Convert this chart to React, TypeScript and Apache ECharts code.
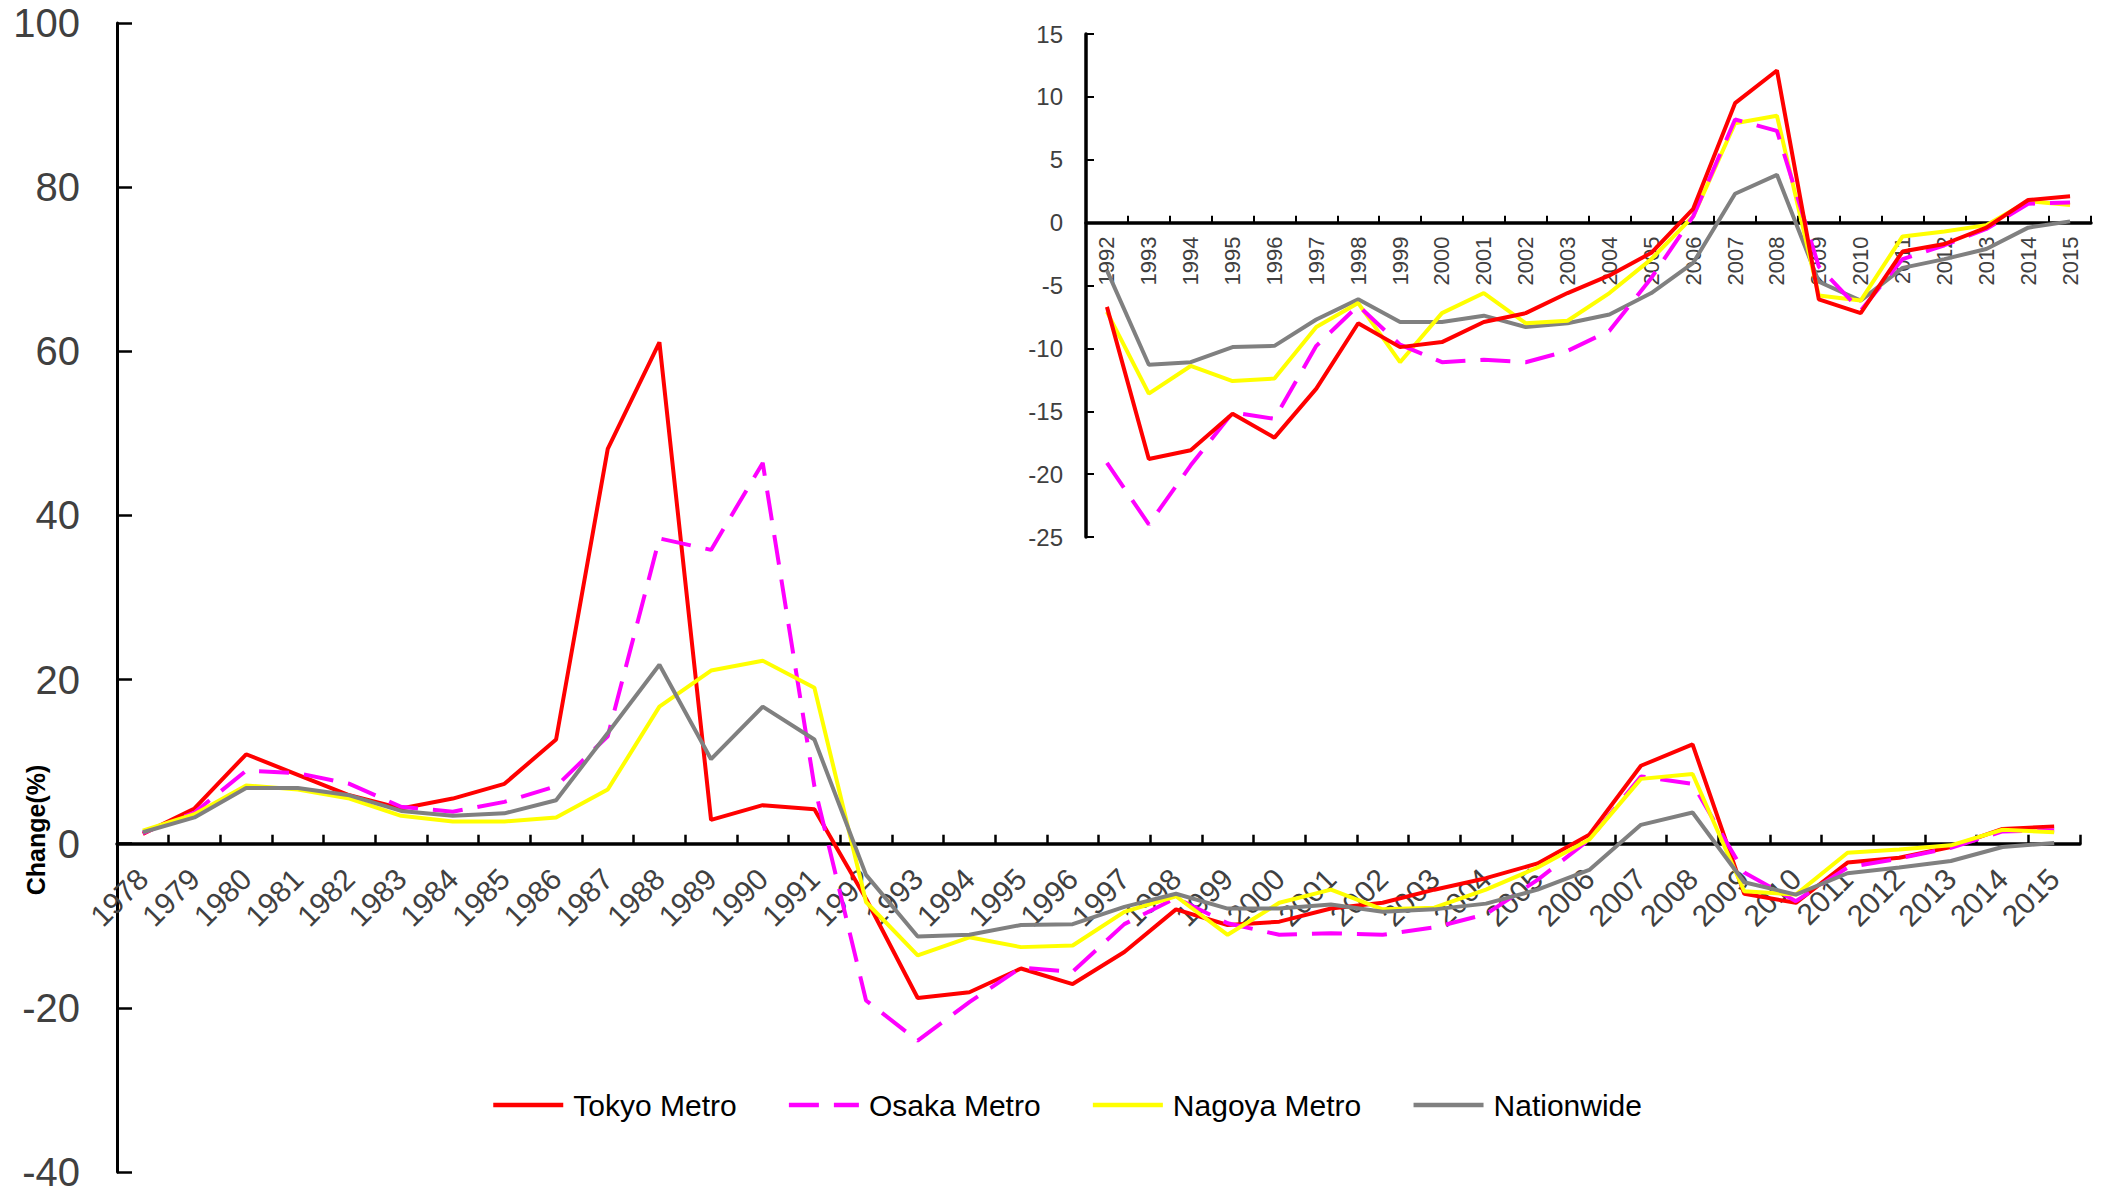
import React, { useEffect, useRef } from "react";
import * as echarts from "echarts";

const years = [
  "1978", "1979", "1980", "1981", "1982", "1983", "1984", "1985", "1986", "1987",
  "1988", "1989", "1990", "1991", "1992", "1993", "1994", "1995", "1996", "1997",
  "1998", "1999", "2000", "2001", "2002", "2003", "2004", "2005", "2006", "2007",
  "2008", "2009", "2010", "2011", "2012", "2013", "2014", "2015",
];

const tokyo = [
  1.2, 4.3, 10.9, 8.4, 5.9, 4.3, 5.5, 7.3, 12.7, 48.1,
  61.1, 2.9, 4.7, 4.2, -6.7, -18.8, -18.1, -15.2, -17.1, -13.2,
  -8.0, -9.9, -9.5, -7.9, -7.2, -5.6, -4.2, -2.4, 1.1, 9.5,
  12.1, -6.1, -7.2, -2.3, -1.7, -0.4, 1.8, 2.1,
];

const osaka = [
  1.3, 3.8, 8.9, 8.6, 7.3, 4.5, 3.9, 5.1, 7.0, 13.1,
  37.2, 35.8, 46.4, 7.0, -19.1, -24.0, -19.3, -15.1, -15.6, -9.8,
  -6.6, -9.7, -11.1, -10.9, -11.1, -10.2, -8.6, -4.4, 0.5, 8.2,
  7.3, -3.5, -7.0, -2.9, -1.8, -0.5, 1.5, 1.6,
];

const nagoya = [
  1.6, 3.6, 7.1, 6.6, 5.5, 3.4, 2.7, 2.7, 3.2, 6.6,
  16.7, 21.1, 22.3, 19.0, -7.1, -13.6, -11.4, -12.6, -12.4, -8.3,
  -6.4, -11.1, -7.2, -5.6, -8.0, -7.8, -5.6, -2.9, 0.5, 7.9,
  8.5, -5.8, -6.2, -1.1, -0.7, -0.2, 1.7, 1.4,
];

const nationwide = [
  1.4, 3.2, 6.8, 6.8, 5.9, 4.0, 3.4, 3.7, 5.3, 13.5,
  21.8, 10.3, 16.7, 12.7, -3.8, -11.3, -11.1, -9.9, -9.8, -7.7,
  -6.1, -7.9, -7.9, -7.4, -8.3, -8.0, -7.3, -5.6, -3.2, 2.3,
  3.8, -4.7, -6.2, -3.6, -2.9, -2.1, -0.4, 0.1,
];

const insetStart = 14; // 1992
const seriesNames = ["Tokyo Metro", "Osaka Metro", "Nagoya Metro", "Nationwide"];
const seriesColors = ["#FF0000", "#FF00FF", "#FFFF00", "#808080"];
const seriesData = [tokyo, osaka, nagoya, nationwide];

const FONT = "'Liberation Sans', Arial, sans-serif";

// layout (px)
const W = 2107;
const H = 1194;
const mainLeft = 117, mainRight = 27, mainTop = 23, mainBottom = 22;
const mainMin = -40, mainMax = 100;
const insetLeft = 1086, insetRight = 16, insetTop = 34, insetBottom = 657;
const insetMin = -25, insetMax = 15;

export default function App() {
  const ref = useRef<HTMLDivElement>(null);

  useEffect(() => {
    document.body.style.margin = "0";
    if (!ref.current) return;
    const chart = echarts.init(ref.current, undefined, { renderer: "svg" });

    const insetYears = years.slice(insetStart);

    const mainH = H - mainTop - mainBottom;
    const mainZeroY = mainTop + (mainH * mainMax) / (mainMax - mainMin);
    const insetH = H - insetTop - insetBottom;
    const insetZeroY = insetTop + (insetH * insetMax) / (insetMax - insetMin);

    const mainSeries = seriesNames.map((name, i) => ({
      name,
      type: "line",
      xAxisIndex: 0,
      yAxisIndex: 0,
      data: seriesData[i],
      symbol: "none",
      z: 2 + i,
      lineStyle: {
        color: seriesColors[i],
        width: 4,
        type: i === 1 ? [30, 15] : "solid",
      },
      itemStyle: { color: seriesColors[i] },
    }));

    const insetSeries = seriesNames.map((name, i) => ({
      name,
      type: "line",
      xAxisIndex: 1,
      yAxisIndex: 1,
      data: seriesData[i].slice(insetStart),
      symbol: "none",
      z: 10 - i,
      lineStyle: {
        color: seriesColors[i],
        width: 4,
        type: i === 1 ? [30, 15] : "solid",
      },
      itemStyle: { color: seriesColors[i] },
    }));

    const hiddenX = (gridIndex: number, data: string[]) => ({
      type: "category",
      gridIndex,
      data,
      boundaryGap: true,
      axisLine: { show: false },
      axisTick: { show: false },
      axisLabel: { show: false },
      splitLine: { show: false },
    });

    chart.setOption({
      animation: false,
      backgroundColor: "#ffffff",
      textStyle: { fontFamily: FONT },
      grid: [
        { left: mainLeft, right: mainRight, top: mainTop, bottom: mainBottom, outerBoundsMode: "none", containLabel: false },
        { left: insetLeft, right: insetRight, top: insetTop, bottom: insetBottom, outerBoundsMode: "none", containLabel: false },
        // axis-at-zero overlays
        { left: mainLeft, right: mainRight, top: mainTop, bottom: H - mainZeroY, outerBoundsMode: "none", containLabel: false },
        { left: insetLeft, right: insetRight, top: insetTop, bottom: H - insetZeroY, outerBoundsMode: "none", containLabel: false },
      ],
      legend: {
        data: seriesNames,
        left: 486,
        top: 1085,
        itemWidth: 70,
        itemHeight: 14,
        itemGap: 50,
        itemStyle: { opacity: 0 },
        lineStyle: { width: 4.5 },
        textStyle: {
          fontSize: 30,
          color: "#000000",
          fontFamily: FONT,
          padding: [0, 0, 0, 5],
        },
      },
      xAxis: [
        hiddenX(0, years),
        hiddenX(1, insetYears),
        {
          type: "category",
          gridIndex: 2,
          data: years,
          boundaryGap: true,
          axisLine: { onZero: false, lineStyle: { color: "#000000", width: 3.5 } },
          axisTick: {
            show: true,
            inside: true,
            length: 9,
            interval: 0,
            lineStyle: { color: "#000000", width: 2.5 },
          },
          axisLabel: {
            rotate: 45,
            interval: 0,
            fontSize: 30,
            color: "#404040",
            margin: 30,
            fontFamily: FONT,
          },
          splitLine: { show: false },
        },
        {
          type: "category",
          gridIndex: 3,
          data: insetYears,
          boundaryGap: true,
          axisLine: { onZero: false, lineStyle: { color: "#000000", width: 3.5 } },
          axisTick: {
            show: true,
            inside: true,
            length: 7,
            interval: 0,
            lineStyle: { color: "#000000", width: 2 },
          },
          axisLabel: {
            rotate: 90,
            interval: 0,
            fontSize: 22,
            color: "#404040",
            margin: 14,
            fontFamily: FONT,
          },
          splitLine: { show: false },
        },
      ],
      yAxis: [
        {
          type: "value",
          gridIndex: 0,
          min: mainMin,
          max: mainMax,
          interval: 20,
          axisLine: { show: true, lineStyle: { color: "#000000", width: 3 } },
          axisTick: {
            show: true,
            inside: true,
            length: 15,
            lineStyle: { color: "#000000", width: 2.5 },
          },
          axisLabel: { fontSize: 40, lineHeight: 32, color: "#404040", margin: 37, fontFamily: FONT },
          splitLine: { show: false },
        },
        {
          type: "value",
          gridIndex: 1,
          min: insetMin,
          max: insetMax,
          interval: 5,
          axisLine: { show: true, lineStyle: { color: "#000000", width: 3.5 } },
          axisTick: {
            show: true,
            inside: true,
            length: 8,
            lineStyle: { color: "#000000", width: 2 },
          },
          axisLabel: { fontSize: 24, color: "#404040", margin: 23, fontFamily: FONT },
          splitLine: { show: false },
        },
        { type: "value", gridIndex: 2, min: 0, max: 1, show: false },
        { type: "value", gridIndex: 3, min: 0, max: 1, show: false },
      ],
      graphic: [
        {
          type: "text",
          x: 36,
          y: 830,
          rotation: Math.PI / 2,
          style: {
            text: "Change(%)",
            fontSize: 25,
            fontWeight: "bold",
            fontFamily: FONT,
            fill: "#000000",
            textAlign: "center",
            textVerticalAlign: "middle",
          },
        },
      ],
      series: [...mainSeries, ...insetSeries],
    });

    return () => {
      chart.dispose();
    };
  }, []);

  return (
    <div
      ref={ref}
      style={{ position: "absolute", left: 0, top: 0, width: W, height: H }}
    />
  );
}
